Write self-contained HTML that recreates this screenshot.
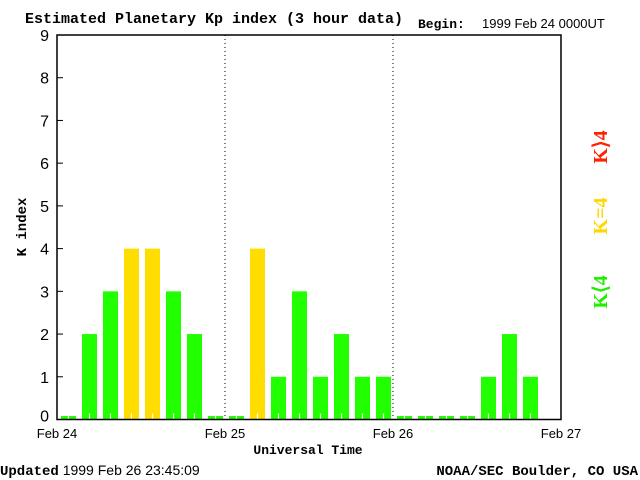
<!DOCTYPE html>
<html><head><meta charset="utf-8"><style>
html,body{margin:0;padding:0;background:#fff;}
svg{display:block;}
.mono{font-family:"Liberation Mono",monospace;}
.sans{font-family:"Liberation Sans",sans-serif;}
.serif{font-family:"Liberation Serif",serif;}
</style></head><body>
<svg id="chart" width="640" height="480" viewBox="0 0 640 480">
<text x="25" y="23" class="mono" font-size="15" font-weight="bold">Estimated Planetary Kp index (3 hour data)</text>
<text x="418" y="28" class="mono" font-size="13" font-weight="bold">Begin:</text>
<text x="482" y="28" class="sans" font-size="13">1999 Feb 24 0000UT</text>
<g id="bars"></g>
<g id="axes"></g>
<text x="308" y="454" text-anchor="middle" class="mono" font-size="13" font-weight="bold">Universal Time</text>
<text transform="translate(26,227) rotate(-90)" text-anchor="middle" class="mono" font-size="14" font-weight="bold">K index</text>
<text transform="translate(607,147) rotate(-90)" text-anchor="middle" class="serif" font-size="20" font-weight="bold" fill="#ff2200">K⟩4</text>
<text transform="translate(607,216) rotate(-90)" text-anchor="middle" class="serif" font-size="20" font-weight="bold" fill="#ffd700">K=4</text>
<text transform="translate(607,292) rotate(-90)" text-anchor="middle" class="serif" font-size="20" font-weight="bold" fill="#22ee00">K⟨4</text>
<text x="0" y="475" class="sans" font-size="14"><tspan class="mono" font-weight="bold">Updated</tspan> 1999 Feb 26 23:45:09</text>
<text x="638" y="475" text-anchor="end" class="mono" font-size="14" font-weight="bold">NOAA/SEC Boulder, CO USA</text>
</svg>
<script>
const kpValues = [0,2,3,4,4,3,2,0, 0,4,1,3,1,2,1,1, 0,0,0,0,1,2,1];
const yTicks = [0,1,2,3,4,5,6,7,8,9];
const dayLabels = ["Feb 24","Feb 25","Feb 26","Feb 27"];
const NS="http://www.w3.org/2000/svg";
const X0=57,X1=561,Y0=419.5,Y9=35;
const slotW=(X1-X0)/24;
function xs(i){return X0+i*slotW;}
function ys(v){return Y0-(v/9)*(Y0-Y9);}
function mk(t,a){const e=document.createElementNS(NS,t);for(const k in a)e.setAttribute(k,a[k]);return e;}
const bars=document.getElementById('bars'),axes=document.getElementById('axes');
kpValues.forEach((v,i)=>{
  const h=Math.max(Y0-ys(v),3.5);
  const col=v>4?'#ff2200':(v===4?'#ffdd00':'#22ff00');
  const r=mk('rect',{x:xs(i)+4,y:Y0-h,width:15,height:h,fill:col});
  
  
  bars.appendChild(r);
  const t=mk('line',{x1:xs(i)+11.5,x2:xs(i)+11.5,y1:Y0,y2:Y0-6,stroke:'#fff','stroke-width':1.2});
  
  
  bars.appendChild(t);
});
const box=mk('rect',{x:X0,y:Y9,width:X1-X0,height:Y0-Y9,fill:'none',stroke:'#000','stroke-width':1.5});


axes.appendChild(box);
[1,2].forEach(d=>{
  const l=mk('line',{x1:X0+d*8*slotW,x2:X0+d*8*slotW,y1:Y9,y2:Y0,stroke:'#000','stroke-dasharray':'1,3'});
  
  
  axes.appendChild(l);
});
yTicks.forEach(v=>{
  const l=mk('line',{x1:X0,x2:X0+6,y1:ys(v),y2:ys(v),stroke:'#000'});
  
  
  axes.appendChild(l);
  const t=mk('text',{x:49,y:ys(v)+(v===0?2:6),'text-anchor':'end','font-size':16,'font-family':'Liberation Sans, sans-serif'});
  t.textContent=v;
  
  
  axes.appendChild(t);
});
dayLabels.forEach((s,d)=>{
  const t=mk('text',{x:X0+d*8*slotW,y:438,'text-anchor':'middle','font-size':13,'font-family':'Liberation Sans, sans-serif'});
  t.textContent=s;
  
  
  axes.appendChild(t);
});
</script>
</body></html>
